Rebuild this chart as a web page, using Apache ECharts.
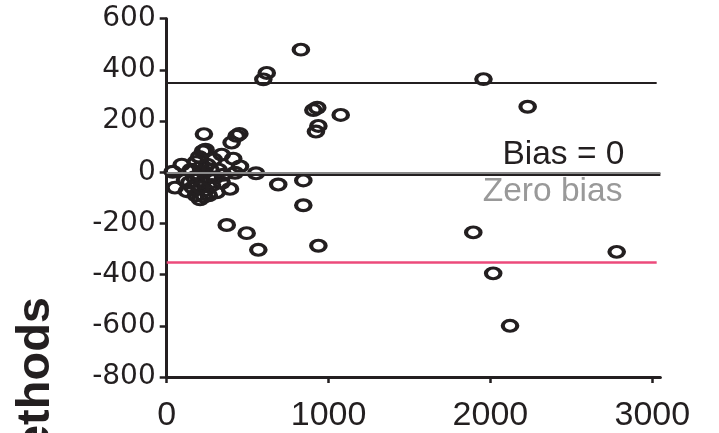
<!DOCTYPE html>
<html>
<head>
<meta charset="utf-8">
<script src="https://cdn.jsdelivr.net/npm/echarts@6/dist/echarts.min.js"></script>
<style>
html,body{margin:0;padding:0;background:#fff;}
#chart{width:719px;height:433px;}
</style>
</head>
<body>
<div id="chart"></div>
<script>
// Mean of the two methods (x) and difference between methods (y)
const meanValues = [
  829, 618, 597, 906, 930, 1075, 937, 922, 1957, 2230,
  230, 449, 432, 401, 552, 689, 844, 844, 371, 494,
  566, 937, 1894, 2017, 2121, 2780,
  37, 93, 51, 124, 206, 224, 240, 340, 411, 453,
  422, 391, 309, 340, 113, 150, 170, 180, 190, 200,
  210, 220, 230, 240, 250, 260, 270, 280, 290, 200,
  160, 260, 300, 320, 180, 140, 230, 210, 350
];
const differences = [
  479, 388, 363, 243, 252, 224, 181, 159, 364, 256,
  149, 150, 142, 116, -4, -48, -32, -129, -206, -238,
  -303, -287, -235, -395, -600, -311,
  2, 30, -60, -74, -106, 82, 88, 69, 53, 23,
  -2, -65, -78, -41, -30, 10, -20, 40, -50, -10,
  20, -40, 0, -70, 30, -20, 10, -50, 50, 60,
  -60, -90, -20, 10, -90, -40, -95, -60, -10
];
const xTickValues = [0, 1000, 2000, 3000];
const yRange = [-800, 600];
const xRange = [0, 3050];
const limitValues = [351, -352];      // upper / lower limits of agreement
const limitSpan = [0, 3027];
const biasValue = -6;
const zeroValue = 0;
const biasLabel = 'Bias = 0';
const zeroLabel = 'Zero bias';
const yTitle = 'ethods';

const INK = '#231f20';
const chart = echarts.init(document.getElementById('chart'));
const points = meanValues.map((x, i) => [x, differences[i]]);

chart.setOption({
  animation: false,
  backgroundColor: '#ffffff',
  grid: { left: 166.7, top: 18.7, right: 58.6, bottom: 55.5, containLabel: false },
  xAxis: {
    type: 'value', min: xRange[0], max: xRange[1],
    axisLine: { show: true, onZero: false, lineStyle: { color: INK, width: 3 } },
    axisTick: { show: true, length: 6, customValues: xTickValues, lineStyle: { color: INK, width: 2.5 } },
    axisLabel: { customValues: xTickValues, formatter: v => String(v), margin: 22, color: INK, fontSize: 34, fontFamily: 'Liberation Sans' },
    splitLine: { show: false }
  },
  yAxis: {
    type: 'value', min: yRange[0], max: yRange[1], interval: 200,
    axisLine: { show: true, onZero: false, lineStyle: { color: INK, width: 3 } },
    axisTick: { show: true, length: 7, lineStyle: { color: INK, width: 2.5 } },
    axisLabel: { margin: 11, color: INK, fontSize: 28, fontFamily: 'DejaVu Sans', formatter: v => String(v) },
    splitLine: { show: false }
  },
  series: [{
    type: 'scatter',
    data: points,
    symbol: 'circle',
    symbolSize: [14.5, 10.8],
    itemStyle: { color: 'rgba(0,0,0,0)', borderColor: INK, borderWidth: 3.6, opacity: 1 },
    z: 3,
    markLine: {
      silent: true,
      symbol: ['none', 'none'],
      animation: false,
      data: [
        [{ coord: [limitSpan[0], limitValues[0]], lineStyle: { color: INK, width: 2, type: 'solid' }, label: { show: false } },
         { coord: [limitSpan[1], limitValues[0]] }],
        [{ coord: [limitSpan[0], limitValues[1]], lineStyle: { color: '#ec4a7b', width: 2.5, type: 'solid' }, label: { show: false } },
         { coord: [limitSpan[1], limitValues[1]] }],
        { yAxis: biasValue, lineStyle: { color: INK, width: 3, type: 'solid' },
          label: { show: true, position: 'insideEndTop', distance: [36, 2.5], formatter: biasLabel,
                   color: INK, fontSize: 33.5, fontFamily: 'Liberation Sans' } },
        { yAxis: zeroValue, lineStyle: { color: '#8a8a8a', width: 2, type: 'solid' },
          label: { show: true, position: 'insideEndBottom', distance: [38, 2.2], formatter: zeroLabel,
                   color: '#999999', fontSize: 33.5, fontFamily: 'Liberation Sans' } }
      ]
    }
  }],
  graphic: [{
    type: 'text',
    x: 60, y: 297,
    rotation: Math.PI / 2,
    style: {
      text: yTitle, fill: INK,
      font: 'bold 47px "Liberation Sans"',
      textAlign: 'right', textVerticalAlign: 'bottom'
    }
  }]
});
</script>
</body>
</html>
